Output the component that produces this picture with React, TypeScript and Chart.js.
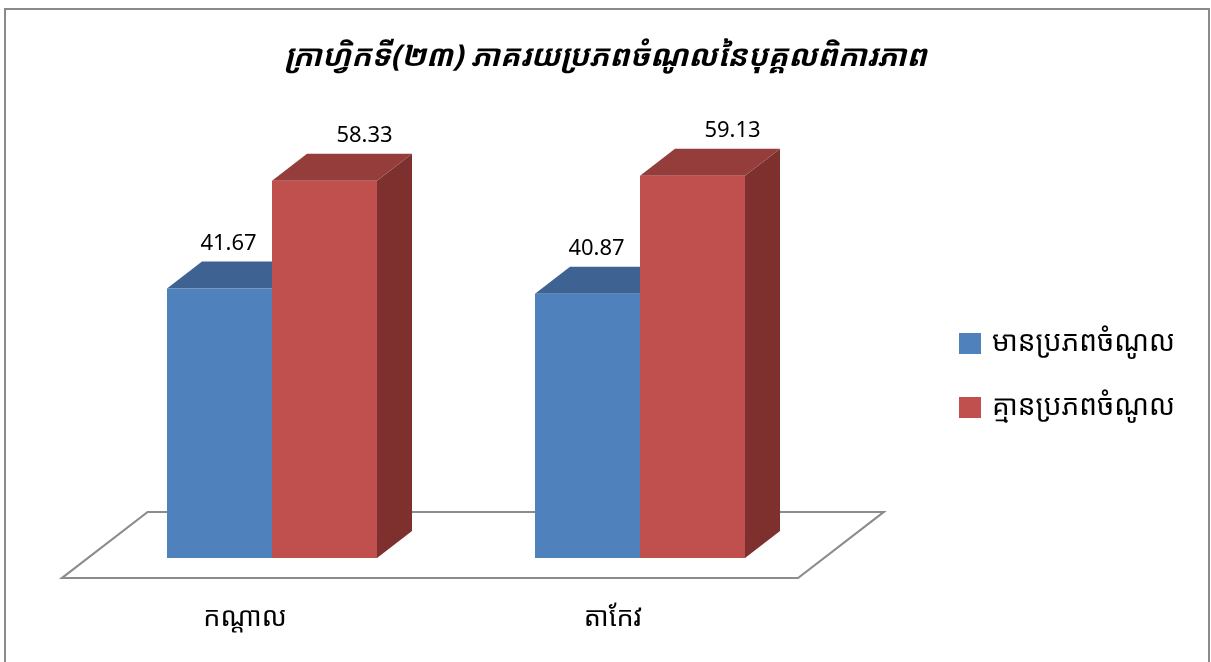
import React, { useEffect, useRef } from "react";
import { Chart, registerables } from "chart.js";

Chart.register(...registerables);

const TITLE = "ក្រាហ្វិកទី(២៣) ភាគរយប្រភពចំណូលនៃបុគ្គលពិការភាព";
const categories = ["កណ្ដាល", "តាកែវ"];
const seriesNames = ["មានប្រភពចំណូល", "គ្មានប្រភពចំណូល"];
const withIncome = [41.67, 40.87];
const withoutIncome = [58.33, 59.13];

const KH =
  '"Khmer OS System", "Khmer OS", "Noto Sans Khmer", "Noto Serif Khmer", "Hanuman", "Battambang", "DejaVu Sans", sans-serif';

const frontColors = ["#4F81BD", "#C0504D"];
const topColors = ["#3E6392", "#943D3B"];
const sideColors = ["#365A85", "#7D302E"];

const DX = 35;
const DY = 27;

const threeD = {
  id: "threeD",
  beforeDatasetsDraw(chart: any) {
    const { ctx, chartArea } = chart;
    const r = DX / DY;
    const fr = 20;
    const bk = 46;
    ctx.save();
    // chart border
    ctx.strokeStyle = "#8A8A8A";
    ctx.lineWidth = 2;
    ctx.beginPath();
    ctx.moveTo(5, chart.height + 5);
    ctx.lineTo(5, 9);
    ctx.lineTo(1209, 9);
    ctx.lineTo(1209, chart.height + 5);
    ctx.stroke();
    // title
    ctx.fillStyle = "#000";
    ctx.font = "italic bold 30px " + KH;
    ctx.textAlign = "center";
    ctx.textBaseline = "middle";
    ctx.fillText(TITLE, chart.width / 2, 57);
    // floor
    ctx.strokeStyle = "#8C8C8C";
    ctx.lineWidth = 2.2;
    ctx.beginPath();
    ctx.moveTo(chartArea.left - fr * r, chartArea.bottom + fr);
    ctx.lineTo(chartArea.right - fr * r, chartArea.bottom + fr);
    ctx.lineTo(chartArea.right + bk * r, chartArea.bottom - bk);
    ctx.lineTo(chartArea.left + bk * r, chartArea.bottom - bk);
    ctx.closePath();
    ctx.fillStyle = "#FFFFFF";
    ctx.fill();
    ctx.stroke();
    // category labels along the floor's front edge
    const xs = chart.scales.x;
    ctx.fillStyle = "#000";
    ctx.font = "27px " + KH;
    ctx.textAlign = "center";
    ctx.textBaseline = "middle";
    chart.data.labels.forEach((lab: string, i: number) => {
      ctx.fillText(lab, xs.getPixelForValue(i) - fr * r - 1, chartArea.bottom + 60);
    });
    // 3D faces
    const n = chart.data.labels.length;
    for (let i = 0; i < n; i++) {
      chart.data.datasets.forEach((_: any, di: number) => {
        const meta = chart.getDatasetMeta(di);
        const el = meta.data[i];
        if (!el) return;
        const p = el.getProps(["x", "y", "base", "width"], true);
        const l = p.x - p.width / 2;
        const rt = p.x + p.width / 2;
        ctx.fillStyle = sideColors[di];
        ctx.beginPath();
        ctx.moveTo(rt, p.y);
        ctx.lineTo(rt + DX, p.y - DY);
        ctx.lineTo(rt + DX, p.base - DY);
        ctx.lineTo(rt, p.base);
        ctx.closePath();
        ctx.fill();
        ctx.fillStyle = topColors[di];
        ctx.beginPath();
        ctx.moveTo(l, p.y);
        ctx.lineTo(rt, p.y);
        ctx.lineTo(rt + DX, p.y - DY);
        ctx.lineTo(l + DX, p.y - DY);
        ctx.closePath();
        ctx.fill();
      });
    }
    ctx.restore();
  },
  afterDatasetsDraw(chart: any) {
    const { ctx } = chart;
    const offs = [9, 40];
    ctx.save();
    ctx.font = '22px "Noto Sans", "Open Sans", sans-serif';
    ctx.fillStyle = "#000";
    ctx.textAlign = "center";
    ctx.textBaseline = "middle";
    chart.data.datasets.forEach((ds: any, di: number) => {
      const meta = chart.getDatasetMeta(di);
      meta.data.forEach((el: any, i: number) => {
        const p = el.getProps(["x", "y"], true);
        ctx.fillText(Number(ds.data[i]).toFixed(2), p.x + offs[di], p.y - 45);
      });
    });
    ctx.restore();
  },
  afterDraw(chart: any) {
    const { ctx } = chart;
    ctx.save();
    const lx = 959;
    const centers = [343.5, 407.5];
    ctx.font = "28px " + KH;
    ctx.textBaseline = "middle";
    ctx.textAlign = "left";
    chart.data.datasets.forEach((ds: any, di: number) => {
      ctx.fillStyle = frontColors[di];
      ctx.fillRect(lx, centers[di] - 10.5, 22, 21);
      ctx.fillStyle = "#000";
      ctx.fillText(ds.label, lx + 33, centers[di]);
    });
    ctx.restore();
  },
};

export default function App() {
  const ref = useRef<HTMLCanvasElement | null>(null);
  useEffect(() => {
    document.body.style.margin = "0";
    const canvas = ref.current;
    if (!canvas) return;
    const chart = new Chart(canvas, {
      type: "bar",
      data: {
        labels: categories,
        datasets: [
          {
            label: seriesNames[0],
            data: withIncome,
            backgroundColor: frontColors[0],
            borderWidth: 0,
          },
          {
            label: seriesNames[1],
            data: withoutIncome,
            backgroundColor: frontColors[1],
            borderWidth: 0,
          },
        ],
      },
      options: {
        animation: false,
        responsive: false,
        devicePixelRatio: 1,
        datasets: {
          bar: {
            categoryPercentage: 0.5707,
            barPercentage: 1,
          },
        },
        layout: {
          padding: { left: 88, right: 387, top: 105.4, bottom: 104 },
        },
        plugins: {
          legend: { display: false },
          tooltip: { enabled: false },
          title: { display: false },
        },
        scales: {
          x: {
            display: false,
          },
          y: {
            display: false,
            min: 0,
            max: 70,
          },
        },
      },
      plugins: [threeD],
    });
    return () => chart.destroy();
  }, []);
  return (
    <canvas
      ref={ref}
      width={1211}
      height={662}
      style={{ display: "block", width: 1211, height: 662, background: "#fff" }}
    />
  );
}
